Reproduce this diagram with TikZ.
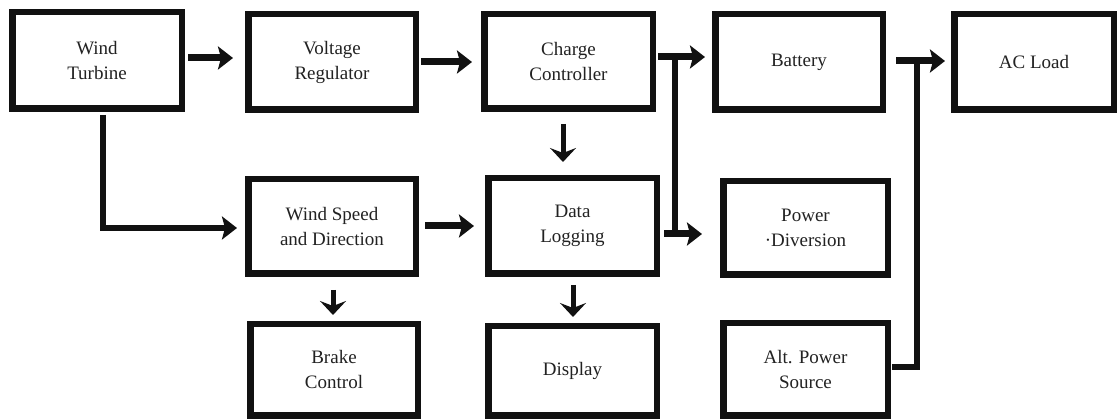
\documentclass[tikz,border=0pt]{standalone}
\usepackage{fontspec}
\setmainfont{Liberation Serif}
\usetikzlibrary{arrows.meta}
\definecolor{ink}{HTML}{111111}
\definecolor{txt}{HTML}{222222}
\begin{document}
\begin{tikzpicture}[x=1pt,y=-1pt,
  blk/.style={draw=ink,line width=6.5pt,fill=white,inner sep=0pt,align=center,
    text=txt,font=\fontsize{19}{25}\selectfont},
  harr/.style={draw=ink,line width=7pt,-{Stealth[length=15pt,width=23pt,inset=3pt]}},
  varr/.style={draw=ink,line width=5pt,-{Stealth[length=14pt,width=26pt,inset=5pt]}},
  wire/.style={draw=ink,line width=6pt,line cap=rect}]
\useasboundingbox (0,0) rectangle (1117,419);
% boxes
\node[blk,minimum width=169.5pt,minimum height=96.5pt] (WT) at (97,60.5) {Wind\\Turbine};
\node[blk,minimum width=167.5pt,minimum height=95.5pt] (VR) at (332,62) {Voltage\\Regulator};
\node[blk,minimum width=168.5pt,minimum height=94.5pt] (CC) at (568.5,61.5) {Charge\\Controller};
\node[blk,minimum width=167.5pt,minimum height=95.5pt] (BA) at (799,62) {Battery};
\node[blk,minimum width=159.5pt,minimum height=95.5pt] (AC) at (1034,62) {AC Load};
\node[blk,minimum width=167.5pt,minimum height=94.5pt] (WS) at (332,226.5) {Wind Speed\\and Direction};
\node[blk,minimum width=168.5pt,minimum height=95.5pt] (DL) at (572.5,226) {Data\\Logging};
\node[blk,minimum width=164.5pt,minimum height=93.5pt] (PD) at (805.5,228) {Power\\·Diversion};
\node[blk,minimum width=167.5pt,minimum height=91.5pt] (BC) at (334,370) {Brake\\Control};
\node[blk,minimum width=168.5pt,minimum height=89.5pt] (DI) at (572.5,371) {Display};
\node[blk,minimum width=164.5pt,minimum height=92.5pt] (AP) at (805.5,369.5) {Alt. Power\\Source};
% junction coordinates
\coordinate (J1) at (675,57);
\coordinate (J2) at (675,234);
\coordinate (J3) at (917,61);
\coordinate (J4) at (917,367);
\coordinate (J5) at (103,228);
% connectors
\draw[harr] ([shift={(3,-2.5)}]WT.east) -- ([shift={(-12,-4)}]VR.west);
\draw[harr] ([shift={(2,0)}]VR.east) -- ([shift={(-9,0.5)}]CC.west);
\draw[harr] ([shift={(2,-4.5)}]CC.east) -- ([shift={(-7,-5)}]BA.west);
\draw[wire] (J1) -- (J2);
\draw[harr] ([shift={(4,8)}]DL.east) -- ([shift={(-18,6)}]PD.west);
\draw[harr] ([shift={(10,-1)}]BA.east) -- ([shift={(-6,-1)}]AC.west);
\draw[wire,line join=miter] (J3) -- (J4) -- ([shift={(4,-2.5)}]AP.east);
\draw[wire,line width=6.5pt,line join=miter,line cap=butt] ([shift={(6,3)}]WT.south) -- (J5) -- ([shift={(-16,1.5)}]WS.west);
\draw[harr,line width=6.5pt] ([shift={(-20,1.5)}]WS.west) -- ([shift={(-8,1.5)}]WS.west);
\draw[harr] ([shift={(6,-0.5)}]WS.east) -- ([shift={(-11,0)}]DL.west);
\draw[varr] ([shift={(-5.5,12)}]CC.south) -- ([shift={(-9.5,-13)}]DL.north);
\draw[varr] ([shift={(1,13)}]WS.south) -- ([shift={(-1,-6)}]BC.north);
\draw[varr] ([shift={(0.5,8)}]DL.south) -- ([shift={(0.5,-6)}]DI.north);
\end{tikzpicture}
\end{document}
